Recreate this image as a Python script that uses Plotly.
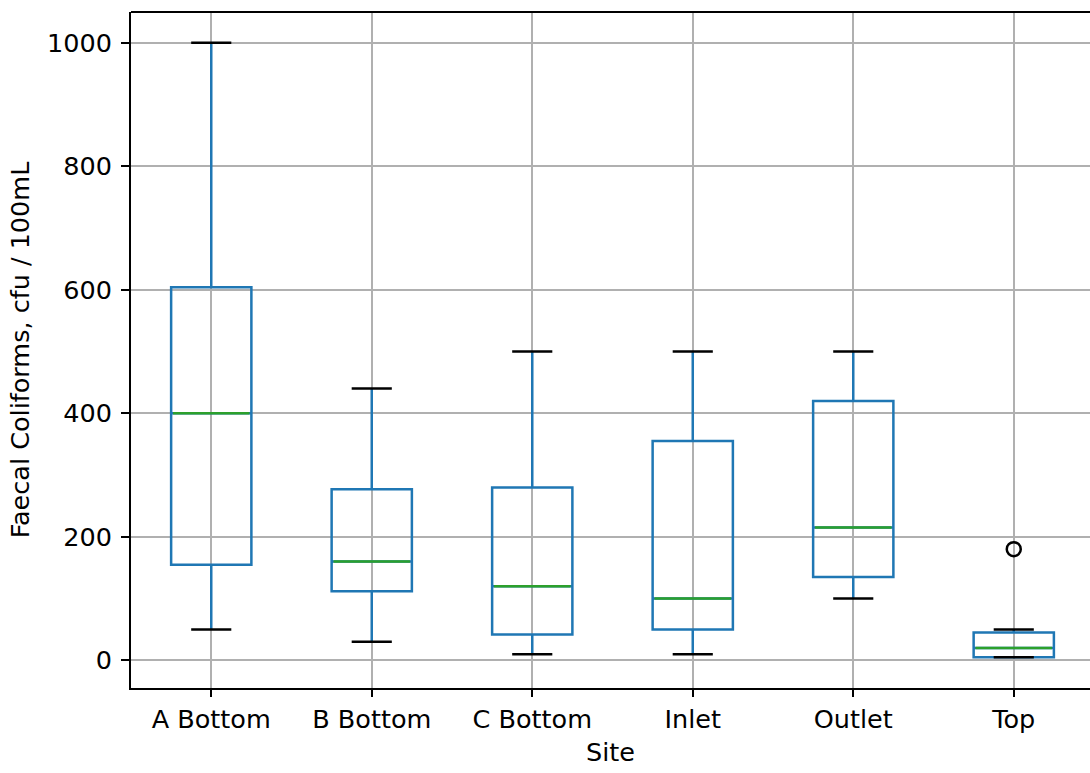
import plotly.graph_objects as go

sites = ["A Bottom", "B Bottom", "C Bottom", "Inlet", "Outlet", "Top"]
lower_whisker = [50, 30, 10, 10, 100, 5]
q1 = [155, 112, 42, 50, 135, 5]
medians = [400, 160, 120, 100, 215, 20]
q3 = [604, 277, 280, 355, 420, 45]
upper_whisker = [1000, 440, 500, 500, 500, 50]
outlier_site = ["Top"]
outlier_values = [180]

positions = list(range(1, len(sites) + 1))
BOX_W = 0.5
CAP_W = 0.25
BLUE = "#1f77b4"
GREEN = "#2ca02c"
FONT = "DejaVu Sans, Arial, sans-serif"
FS = 25.5
LW = 2.5

fig = go.Figure()
for i, p in enumerate(positions):
    fig.add_trace(go.Box(
        x=[p], q1=[q1[i]], median=[medians[i]], q3=[q3[i]],
        lowerfence=[lower_whisker[i]], upperfence=[upper_whisker[i]],
        width=BOX_W, whiskerwidth=0, boxpoints=False,
        fillcolor="rgba(0,0,0,0)", line=dict(color=BLUE, width=LW),
        showlegend=False, hoverinfo="skip",
    ))

# medians
mx, my = [], []
for i, p in enumerate(positions):
    mx += [p - BOX_W / 2 + 0.012, p + BOX_W / 2 - 0.012, None]
    my += [medians[i], medians[i], None]
fig.add_trace(go.Scatter(x=mx, y=my, mode="lines", line=dict(color=GREEN, width=LW),
                         showlegend=False, hoverinfo="skip"))

# caps
cx, cy = [], []
for i, p in enumerate(positions):
    for v in (lower_whisker[i], upper_whisker[i]):
        cx += [p - CAP_W / 2, p + CAP_W / 2, None]
        cy += [v, v, None]
fig.add_trace(go.Scatter(x=cx, y=cy, mode="lines", line=dict(color="black", width=LW),
                         showlegend=False, hoverinfo="skip"))

# outliers
ox = [positions[sites.index(s)] for s in outlier_site]
fig.add_trace(go.Scatter(x=ox, y=outlier_values, mode="markers",
                         marker=dict(symbol="circle-open", size=14, color="black",
                                     line=dict(width=2.5, color="black")),
                         showlegend=False, hoverinfo="skip"))

fig.add_shape(type="line", xref="paper", yref="paper", x0=0, x1=1, y0=1, y1=1,
              line=dict(color="black", width=2))

fig.update_layout(
    width=1090, height=773,
    margin=dict(l=131, r=0, t=12, b=85),
    paper_bgcolor="white", plot_bgcolor="white",
    font=dict(family=FONT, size=FS, color="black"),
    xaxis=dict(
        range=[0.5, 6.475], tickmode="array", tickvals=positions, ticktext=sites,
        showgrid=True, gridcolor="#b0b0b0", gridwidth=2,
        showline=True, linecolor="black", linewidth=2, mirror=False,
        ticks="outside", ticklen=7, tickwidth=2, tickcolor="black",
        zeroline=False,
        title=dict(text="Site", font=dict(size=FS), standoff=11),
        tickfont=dict(size=FS),
    ),
    yaxis=dict(
        range=[-44.75, 1049.75], tickmode="array", tickvals=[0, 200, 400, 600, 800, 1000],
        showgrid=True, gridcolor="#b0b0b0", gridwidth=2,
        showline=True, linecolor="black", linewidth=2, mirror=False,
        ticks="outside", ticklen=8, tickwidth=2, tickcolor="black",
        zeroline=False, ticklabelstandoff=4,
        title=dict(text="Faecal Coliforms, cfu / 100mL", font=dict(size=FS), standoff=10),
        tickfont=dict(size=FS),
    ),
)

fig.write_html("out.html")
